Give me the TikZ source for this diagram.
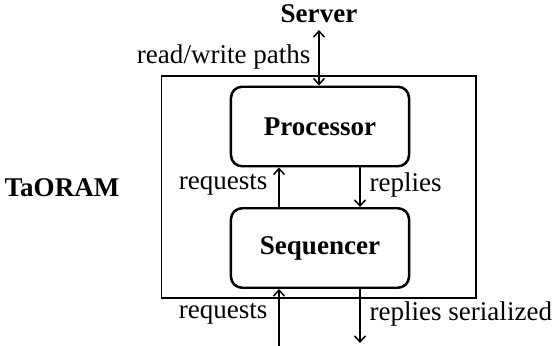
\documentclass[tikz,border=0pt]{standalone}
\usepackage{fontspec}
\setmainfont{Liberation Serif}
\usetikzlibrary{arrows.meta,calc}
\begin{document}
\begin{tikzpicture}[x=0.3623pt,y=-0.3623pt,
  every node/.style={font=\fontsize{9.8pt}{12pt}\selectfont},
  unitbox/.style={draw,line width=0.9pt,rounded corners=4pt,minimum width=64.5pt,minimum height=28.8pt,inner sep=0pt,font=\fontsize{9.8pt}{12pt}\selectfont\bfseries},
  frame/.style={draw,line width=0.4pt},
  conn/.style={line width=0.55pt,-{Straight Barb[length=2.2pt,width=4pt]}},
  lbl/.style={inner sep=0pt},
  bold/.style={font=\fontsize{9.8pt}{12pt}\selectfont\bfseries}]
\useasboundingbox (0,0) rectangle (552,346);
\node[frame,minimum width=113.8pt,minimum height=80.4pt,inner sep=0pt] (outer) at (319,187) {};
\node[unitbox] (proc) at (320,126.5) {Processor};
\node[unitbox] (seq) at (320,248) {Sequencer};
\node[lbl,bold] (server) at (319,14) {Server};
\node[lbl,bold] (taoram) at (62,188) {TaORAM};
\node[lbl,anchor=east] (rw) at (311,57) {read/write paths};
\node[lbl,anchor=east] (req1) at (268,185) {requests};
\node[lbl,anchor=west] (rep1) at (369,185) {replies};
\node[lbl,anchor=east] (req2) at (268,314) {requests};
\node[lbl,anchor=west] (rep2) at (369,314) {replies serialized};
\coordinate (srvend) at (319,30);
\coordinate (inbot) at (279,346);
\coordinate (outbot) at (360,343);
\draw[conn,{Straight Barb[length=2.2pt,width=4pt]}-{Straight Barb[length=2.2pt,width=4pt]}] (srvend) -- (proc.north -| srvend);
\draw[conn] ($(seq.north)+(-41,0)$) -- ($(proc.south)+(-41,0)$);
\draw[conn] ($(proc.south)+(40,0)$) -- ($(seq.north)+(40,0)$);
\draw[conn] (inbot) -- (seq.south -| inbot);
\draw[conn] (seq.south -| outbot) -- (outbot);
\end{tikzpicture}
\end{document}
